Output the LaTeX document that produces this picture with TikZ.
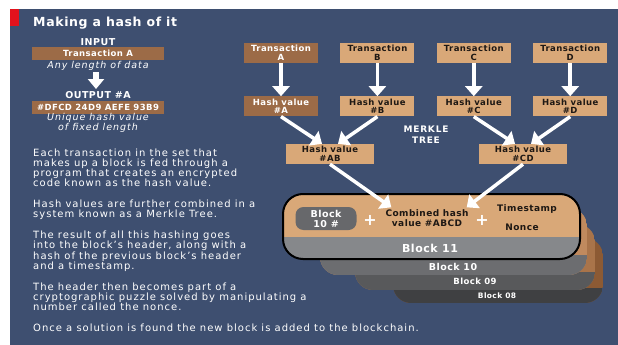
\documentclass[tikz,border=0pt]{standalone}
\usepackage{fontspec}
\setmainfont{DejaVu Sans}[LetterSpace=5]
\usetikzlibrary{positioning,arrows.meta}

\definecolor{panelblue}{RGB}{62,79,112}
\definecolor{accentred}{RGB}{226,18,28}
\definecolor{boxtan}{RGB}{217,168,120}
\definecolor{boxbrown}{RGB}{156,107,71}
\definecolor{boxtext}{RGB}{30,24,20}
\definecolor{greybox}{RGB}{103,104,107}
\definecolor{bandeleven}{RGB}{134,136,139}
\definecolor{bandten}{RGB}{108,109,112}
\definecolor{bandnine}{RGB}{88,89,91}
\definecolor{bandeight}{RGB}{63,64,66}
\definecolor{topten}{RGB}{192,138,94}
\definecolor{topnine}{RGB}{169,116,74}
\definecolor{topeight}{RGB}{140,90,52}

\begin{document}
\begin{tikzpicture}[x=1pt,y=-1pt, node distance=22pt,
		tree box/.style={fill=boxtan,minimum width=74pt,minimum height=20pt,inner sep=0pt,
			align=center,text=boxtext,font=\fontsize{8.5}{8.7}\selectfont\bfseries},
		first box/.style={tree box,fill=boxbrown,text=white},
		wide box/.style={fill=boxbrown,minimum width=132pt,minimum height=13pt,inner sep=0pt,
			text=white,font=\fontsize{8.5}{9}\selectfont\bfseries},
		plain label/.style={text=white,inner sep=0pt,align=center,font=\fontsize{9.5}{8}\selectfont\bfseries},
		note label/.style={plain label,font=\fontsize{9.5}{8.3}\selectfont\itshape\addfontfeatures{LetterSpace=10}},
		hash arrow/.style={draw=white,line width=3.5pt,-{Triangle[width=17pt,length=10pt]}},
		in block/.style={inner sep=0pt,align=center,text=boxtext,font=\fontsize{9}{10}\selectfont\bfseries}]

		% frame
		\fill[white] (0,0) rectangle (618,345);
		\fill[panelblue] (10,9) rectangle (618,345);
		\fill[accentred] (10,9) rectangle (19,26);
		\node[anchor=base west,inner sep=0pt,text=white,font=\fontsize{12.5}{14}\selectfont\bfseries]
			(title) at (33,27) {Making a hash of it};

		% input and output
		\node[plain label] (input) at (98,42) {INPUT};
		\node[wide box] (inbox) at (98,53.5) {Transaction A};
		\node[note label] (anylen) at (98,66) {Any length of data};
		\node[plain label] (output) at (98,95) {OUTPUT \#A};
		\node[wide box] (outbox) at (98,107) {\#DFCD 24D9 AEFE 93B9};
		\node[note label] (unique) at (98,123) {Unique hash value\\of fixed length};
		\draw[draw=white,line width=6pt,-{Triangle[width=16pt,length=10pt]}] (anylen) ++(-2,6) -- ++(0,17);

		% text
		\node[anchor=north west,inner sep=0pt,align=left,text=white,
			font=\fontsize{10}{10.2}\selectfont\addfontfeatures{LetterSpace=10}] (story) at (33,148.5)
			{Each transaction in the set that\\
			makes up a block is fed through a\\
			program that creates an encrypted\\
			code known as the hash value.\\[10.6pt]
			Hash values are further combined in a\\
			system known as a Merkle Tree.\\[10.6pt]
			The result of all this hashing goes\\
			into the block’s header, along with a\\
			hash of the previous block’s header\\
			and a timestamp.\\[10.6pt]
			The header then becomes part of a\\
			cryptographic puzzle solved by manipulating a\\
			number called the nonce.\\[10.6pt]
			Once a solution is found the new block is added to the blockchain.};

		% merkle tree
		\node[first box] (ta) at (281,53) {Transaction\\A};
		\node[tree box] (tb) [right=of ta] {Transaction\\B};
		\node[tree box] (tc) [right=of tb] {Transaction\\C};
		\node[tree box] (td) [right=of tc] {Transaction\\D};
		\node[first box] (ha) [below=33pt of ta] {Hash value\\\#A};
		\node[tree box] (hb) [below=33pt of tb] {Hash value\\\#B};
		\node[tree box] (hc) [below=33pt of tc] {Hash value\\\#C};
		\node[tree box] (hd) [below=33pt of td] {Hash value\\\#D};
		\node[tree box,minimum width=88pt] (hab) at (330,154) {Hash value\\\#AB};
		\node[tree box,minimum width=88pt] (hcd) at (523,154) {Hash value\\\#CD};
		\node[plain label,font=\fontsize{9}{11}\selectfont\bfseries\addfontfeatures{LetterSpace=9}]
			(merkle) at (426,135) {MERKLE\\TREE};

		% older blocks
		\begin{scope}
			\clip[rounded corners=18pt] (393,238) rectangle (603,303);
			\fill[topeight] (393,238) rectangle (603,303);
			\fill[bandeight] (393,288) rectangle (603,303);
		\end{scope}
		\node[plain label,font=\fontsize{7.5}{8}\selectfont\bfseries] (b08) at (497,296) {Block 08};
		\begin{scope}
			\clip[rounded corners=18pt] (355,224) rectangle (595,290);
			\fill[topnine] (355,224) rectangle (595,290);
			\fill[bandnine] (355,272) rectangle (595,290);
		\end{scope}
		\node[plain label,font=\fontsize{8.5}{8}\selectfont\bfseries] (b09) at (475,281) {Block 09};
		\begin{scope}
			\clip[rounded corners=18pt] (320,208) rectangle (587,275);
			\fill[topten] (320,208) rectangle (587,275);
			\fill[bandten] (320,255) rectangle (587,275);
		\end{scope}
		\node[plain label,font=\fontsize{9.5}{8}\selectfont\bfseries] (b10) at (453,267) {Block 10};

		% newest block
		\begin{scope}
			\clip[rounded corners=20pt] (283,194) rectangle (580,259);
			\fill[boxtan] (283,194) rectangle (580,259);
			\fill[bandeleven] (283,237) rectangle (580,259);
		\end{scope}
		\draw[line width=2pt,rounded corners=20pt] (283,194) rectangle (580,259);
		\node[plain label,font=\fontsize{11}{8}\selectfont\bfseries] (b11) at (430,248) {Block 11};
		\node[in block,fill=greybox,text=white,rounded corners=8pt,minimum width=61pt,minimum height=23pt,
			font=\fontsize{9.5}{10}\selectfont\bfseries] (prev) at (326,218.5) {Block\\10 \#};
		\node[plain label,font=\fontsize{16}{16}\selectfont\bfseries] (plusa) at (370,220) {+};
		\node[in block] (abcd) at (427,218) {Combined hash\\value \#ABCD};
		\node[plain label,font=\fontsize{16}{16}\selectfont\bfseries] (plusb) at (482,220) {+};
		\node[in block] (stamp) at (527,209) {Timestamp};
		\node[in block] (nonce) at (522,227) {Nonce};

		% arrows
		\draw[hash arrow] (ta) -- (ha);
		\draw[hash arrow] (tb) -- (hb);
		\draw[hash arrow] (tc) -- (hc);
		\draw[hash arrow] (td) -- (hd);
		\draw[hash arrow] (ha.south) -- ([xshift=-8pt]hab.north);
		\draw[hash arrow] (hb.south) -- ([xshift=8pt]hab.north);
		\draw[hash arrow] (hc.south) -- ([xshift=-8pt]hcd.north);
		\draw[hash arrow] (hd.south) -- ([xshift=8pt]hcd.north);
		\draw[hash arrow] (hab.south) -- ([xshift=6pt,yshift=2pt]abcd.north west);
		\draw[hash arrow] (hcd.south) -- ([xshift=-2pt,yshift=2pt]abcd.north east);
\end{tikzpicture}
\end{document}
